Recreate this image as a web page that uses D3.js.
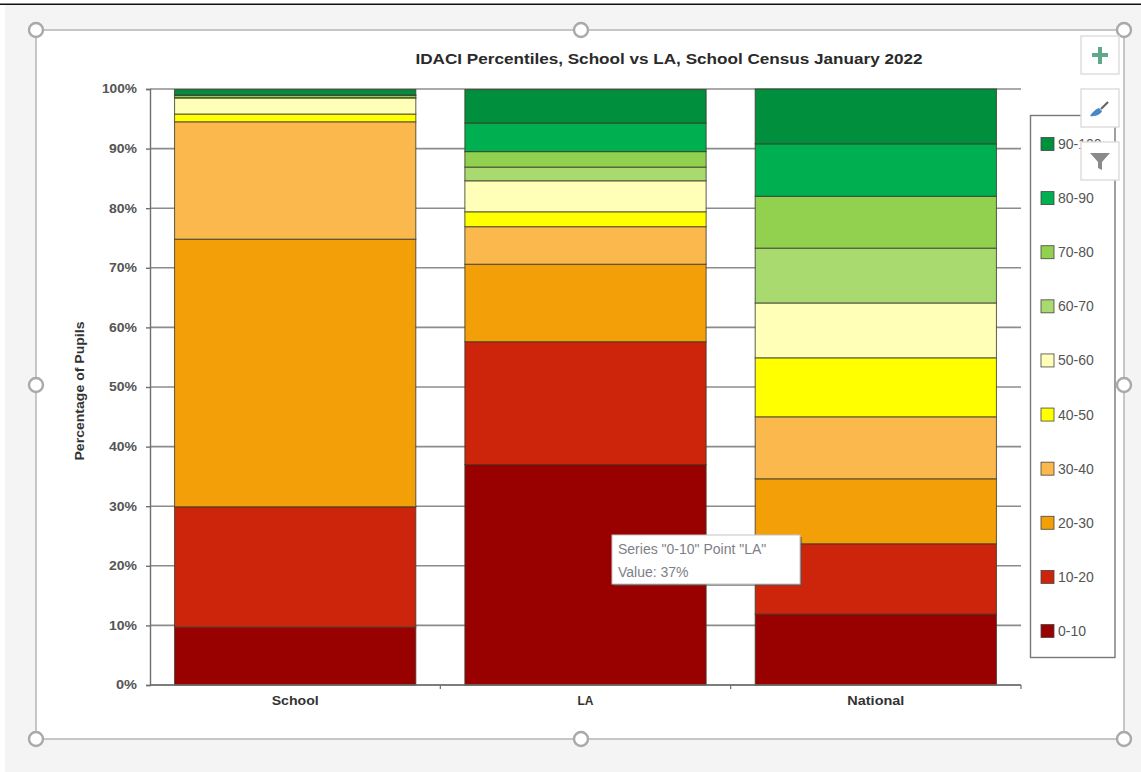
<!DOCTYPE html>
<html>
<head>
<meta charset="utf-8">
<script src="https://d3js.org/d3.v7.min.js"></script>
<style>
html,body{margin:0;padding:0;background:#fff;}
svg{display:block;}
text{font-family:"Liberation Sans",Arial,sans-serif;}
</style>
</head>
<body>
<svg id="chart" width="1141" height="772"></svg>
<script>
// Share of pupils in each IDACI percentile band
const categories = ["School", "LA", "National"];
const bands = ["0-10","10-20","20-30","30-40","40-50","50-60","60-70","70-80","80-90","90-100"];
const schoolValues   = [9.7, 20.2, 44.9, 19.7, 1.3, 2.7, 0.05, 0.4, 0.05, 0.9];
const laValues       = [37.0, 20.6, 13.0, 6.3, 2.5, 5.2, 2.3, 2.6, 4.8, 5.6];
const nationalValues = [11.9, 11.8, 10.9, 10.4, 9.9, 9.2, 9.2, 8.7, 8.8, 9.2];
const bandColors = ["#990000","#cc250b","#f29f08","#fbb84d","#ffff00","#ffffb8","#a9da6f","#92d050","#00b050","#008f3c"];
const yTicks = [0,10,20,30,40,50,60,70,80,90,100];

const valuesByCategory = {School: schoolValues, LA: laValues, National: nationalValues};
const rows = categories.map(c => {
  const row = {category: c};
  bands.forEach((b, i) => { row[b] = valuesByCategory[c][i]; });
  return row;
});

const svg = d3.select("#chart");

// Window chrome around the embedded chart
svg.append("rect").attr("width",1141).attr("height",772).attr("fill","#fff");
svg.append("rect").attr("x",5).attr("y",5).attr("width",1136).attr("height",767).attr("fill","#f4f4f4");
svg.append("rect").attr("x",0).attr("y",3.5).attr("width",1141).attr("height",1.5).attr("fill","#111");
svg.append("rect").attr("x",36).attr("y",30).attr("width",1088).attr("height",709)
  .attr("fill","#fff").attr("stroke","#c6c6c6").attr("stroke-width",2);

// Scales
const plot = {left:150, right:1021, top:89, bottom:685};
const x = d3.scaleBand().domain(categories).range([plot.left, plot.right]).paddingInner(0.169).paddingOuter(0.0845);
const y = d3.scaleLinear().domain([0,100]).range([plot.bottom, plot.top]);

// Horizontal gridlines sit behind the bars
svg.append("g").selectAll("line").data(yTicks).join("line")
  .attr("x1",plot.left).attr("x2",plot.right)
  .attr("y1",d=>y(d)).attr("y2",d=>y(d))
  .attr("stroke","#8c8c8c").attr("stroke-width",1.6);

// Stacked bars
const stacked = d3.stack().keys(bands)(rows);
svg.append("g").selectAll("g").data(stacked).join("g")
  .attr("fill",(d,i)=>bandColors[i])
  .selectAll("rect").data(d=>d).join("rect")
  .attr("x",d=>x(d.data.category))
  .attr("width",x.bandwidth())
  .attr("y",d=>y(d[1]))
  .attr("height",d=>y(d[0])-y(d[1]))
  .attr("stroke","#3a3a2a").attr("stroke-opacity",0.75).attr("stroke-width",1.1);

// Axes: labels are stretched a little wider than the font's natural width
const yAxis = d3.axisLeft(y).tickValues(yTicks).tickFormat(d=>d+"%").tickSize(4).tickPadding(9);
const yG = svg.append("g").attr("transform",`translate(${plot.left},0)`).call(yAxis);
yG.selectAll("path,line").attr("stroke","#6f6f6f").attr("stroke-width",1.4);
yG.selectAll("text").attr("font-size",12).attr("font-weight",700).attr("fill","#555")
  .attr("textLength",d=>String(d).length===3?35:String(d).length===2?28:21)
  .attr("lengthAdjust","spacingAndGlyphs");

const xLabelWidths = {School:47, LA:16, National:57};
const xAxis = d3.axisBottom(x).tickSize(0).tickPadding(11);
const xG = svg.append("g").attr("transform",`translate(0,${plot.bottom})`).call(xAxis);
xG.select("path").attr("d",`M${plot.left},0H${plot.right}`).attr("stroke","#6f6f6f").attr("stroke-width",1.4);
xG.selectAll("text").attr("font-size",12).attr("font-weight",700).attr("fill","#333")
  .attr("textLength",d=>xLabelWidths[d]).attr("lengthAdjust","spacingAndGlyphs");

// Separators between categories on the horizontal axis
const gap = x.step() - x.bandwidth();
svg.append("g").selectAll("line").data(categories).join("line")
  .attr("x1",d=>x(d)+x.bandwidth()+gap/2)
  .attr("x2",d=>x(d)+x.bandwidth()+gap/2)
  .attr("y1",plot.bottom).attr("y2",plot.bottom+4)
  .attr("stroke","#6f6f6f").attr("stroke-width",1.2);

// Titles
svg.append("text").attr("x",669).attr("y",64).attr("text-anchor","middle")
  .attr("font-size",14).attr("font-weight",700).attr("fill","#2a2a2a")
  .attr("textLength",507).attr("lengthAdjust","spacingAndGlyphs")
  .text("IDACI Percentiles, School vs LA, School Census January 2022");
svg.append("text").attr("transform","translate(84,391) rotate(-90)").attr("text-anchor","middle")
  .attr("font-size",12).attr("font-weight",700).attr("fill","#333")
  .attr("textLength",139).attr("lengthAdjust","spacingAndGlyphs")
  .text("Percentage of Pupils");

// Legend, top band first
const legendY = d3.scalePoint().domain(bands.slice().reverse()).range([144,631]);
svg.append("rect").attr("x",1030.5).attr("y",115.5).attr("width",84.5).attr("height",542)
  .attr("fill","#fff").attr("stroke","#777").attr("stroke-width",1.4);
const legendItems = svg.append("g").selectAll("g").data(bands).join("g")
  .attr("transform",d=>`translate(1041,${legendY(d)})`);
legendItems.append("rect").attr("y",-6.5).attr("width",13).attr("height",13)
  .attr("fill",(d,i)=>bandColors[i]).attr("stroke","#444").attr("stroke-width",0.8);
legendItems.append("text").attr("x",17).attr("y",5).attr("font-size",14)
  .attr("font-family","'Open Sans',sans-serif")
  .attr("fill","#555").text(d=>d);

// Resize handles on the chart frame
const handleX = [36,581,1124], handleY = [30,385,739];
const handles = [];
handleX.forEach((hx,i)=>handleY.forEach((hy,j)=>{ if(!(i===1&&j===1)) handles.push([hx,hy]); }));
svg.append("g").selectAll("circle").data(handles).join("circle")
  .attr("cx",d=>d[0]).attr("cy",d=>d[1]).attr("r",7)
  .attr("fill","#fff").attr("stroke","#a9a9a9").attr("stroke-width",2.4);

// Chart tool buttons
svg.append("g").selectAll("rect").data([36,89,142]).join("rect")
  .attr("x",1081).attr("y",d=>d).attr("width",38).attr("height",38)
  .attr("fill","#fff").attr("stroke","#dcdcdc").attr("stroke-width",1.4);
svg.append("path").attr("d","M1098,47h4v6h6v4h-6v7h-4v-7h-6v-4h6z").attr("fill","#5fa88c");
svg.append("path").attr("d","M1090,116c2,-4 6,-7 9,-8l3,3c-1,3 -6,6 -12,5z").attr("fill","#4a86cc");
svg.append("path").attr("d","M1101,109l7,-7").attr("stroke","#666").attr("stroke-width",2.2).attr("fill","none");
svg.append("path").attr("d","M1090,153h20l-8,9v8l-4,-2v-6z").attr("fill","#8a8a8a");

// Hover tooltip over the LA 0-10 segment
const tip = svg.append("g");
tip.append("rect").attr("x",614).attr("y",537).attr("width",188).attr("height",49).attr("fill","#555").attr("opacity",0.6);
tip.append("rect").attr("x",612).attr("y",535).attr("width",188).attr("height",49)
  .attr("fill","#fff").attr("stroke","#c4c4c4").attr("stroke-width",1);
const tipLines = [`Series "0-10" Point "LA"`, `Value: ${laValues[0].toFixed(0)}%`];
tip.selectAll("text").data(tipLines).join("text")
  .attr("x",618).attr("y",(d,i)=>554+i*23)
  .attr("font-family","'Open Sans',sans-serif").attr("font-size",14).attr("fill","#7d8088")
  .text(d=>d);
</script>
</body>
</html>
